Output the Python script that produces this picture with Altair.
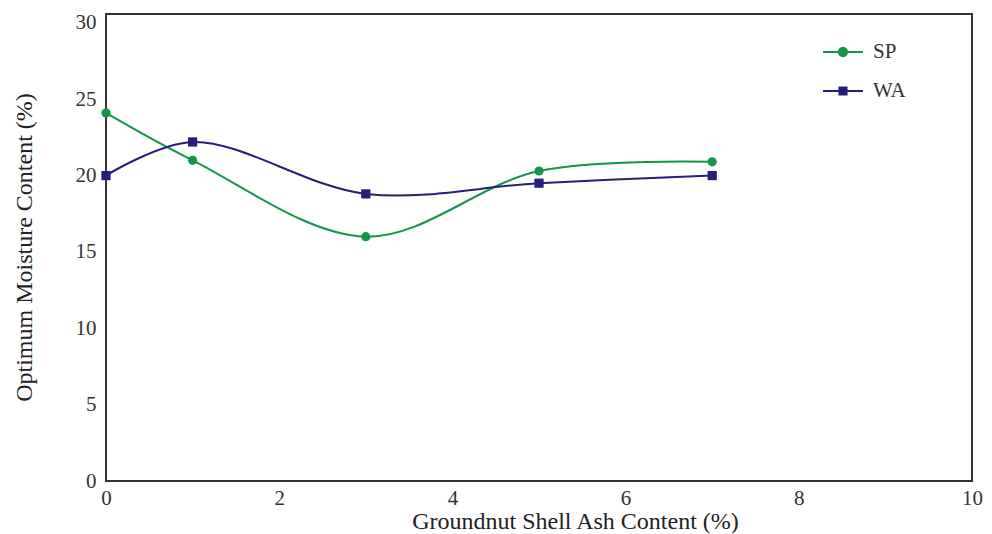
import altair as alt
import pandas as pd

ash = [0, 1, 3, 5, 7]
sp = [24.1, 21.0, 16.0, 20.3, 20.9]
wa = [20.0, 22.2, 18.8, 19.5, 20.0]
series_names = ["SP", "WA"]
colors = ["#14964a", "#231f7a"]
x_ticks = [0, 2, 4, 6, 8, 10]
y_ticks = [0, 5, 10, 15, 20, 25, 30]

rows = []
for name, vals in zip(series_names, [sp, wa]):
    for a, v in zip(ash, vals):
        rows.append({"ash": a, "omc": v, "series": name})
df = pd.DataFrame(rows)

FONT = "Liberation Serif"

x_enc = alt.X("ash:Q", scale=alt.Scale(domain=[0, 10]),
              axis=alt.Axis(values=x_ticks, title="Groundnut Shell Ash Content (%)",
                            titleX=469, titleY=40, titleBaseline="middle", labelFlush=False))
y_enc = alt.Y("omc:Q", scale=alt.Scale(domain=[0, 30.58], nice=False),
              axis=alt.Axis(values=y_ticks, title="Optimum Moisture Content (%)",
                            titleX=-82, titleY=233, titleBaseline="middle"))

color_scale = alt.Scale(domain=series_names, range=colors)

lines = alt.Chart(df).mark_line(interpolate="catmull-rom", strokeWidth=2).encode(
    x=x_enc, y=y_enc,
    color=alt.Color("series:N", scale=color_scale, legend=None),
    detail="series:N",
)

points = alt.Chart(df).mark_point(filled=True, opacity=1, size=85).encode(
    x=x_enc, y=y_enc,
    color=alt.Color("series:N", scale=color_scale, legend=None),
    shape=alt.Shape("series:N", scale=alt.Scale(domain=series_names, range=["circle", "square"]), legend=None),
)

bar = "M-1.05,-0.055L1.05,-0.055L1.05,0.055L-1.05,0.055Z"
circ = "M-0.27,0A0.27,0.27 0 1,1 0.27,0A0.27,0.27 0 1,1 -0.27,0Z"
sq = "M-0.24,-0.24L0.24,-0.24L0.24,0.24L-0.24,0.24Z"
legend_shapes = [bar + circ, bar + sq]

leg = alt.Legend(title=None, orient="none", legendX=718, legendY=19,
                 symbolOpacity=1, symbolStrokeWidth=0, symbolSize=1444, padding=0,
                 rowPadding=10, labelOffset=11,
                 labelFont=FONT, labelFontSize=21, labelColor="#333")

legend_layer = alt.Chart(df).mark_point(filled=True, opacity=0, size=1444).encode(
    x=x_enc, y=y_enc,
    color=alt.Color("series:N", scale=alt.Scale(domain=series_names, range=colors), legend=leg),
    shape=alt.Shape("series:N", scale=alt.Scale(domain=series_names, range=legend_shapes), legend=leg),
)

chart = alt.layer(lines, points, legend_layer).resolve_scale(
    shape="independent", color="independent"
).properties(
    width=866, height=467,
    autosize=alt.AutoSizeParams(type="none"),
    padding={"left": 98, "top": 6, "right": 12, "bottom": 52},
).configure_view(
    stroke="#333", strokeWidth=2
).configure_axis(
    grid=False, ticks=False, domain=False,
    labelFont=FONT, labelFontSize=21, labelColor="#333",
    titleFont=FONT, titleFontSize=24, titleColor="#222", titleFontWeight="normal",
    labelPadding=10,
).configure_axisX(labelPadding=6)

chart.save("out.html", embed_options={"renderer": "svg", "actions": False})
